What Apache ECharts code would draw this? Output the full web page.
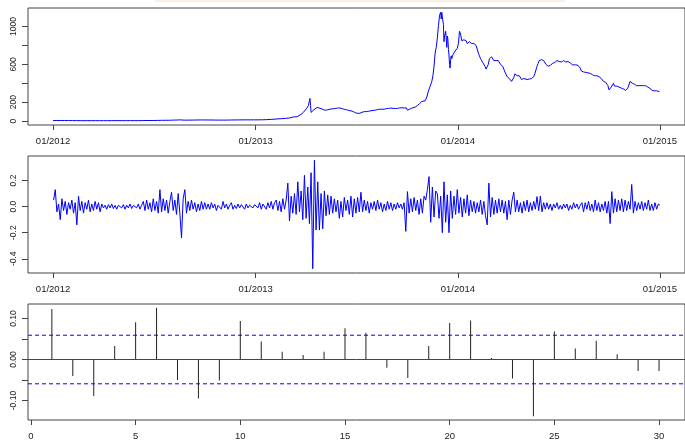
<!DOCTYPE html>
<html><head><meta charset="utf-8">
<script src="https://cdn.jsdelivr.net/npm/echarts@6/dist/echarts.min.js"></script>
<style>html,body{margin:0;padding:0;background:#fff}#c{width:685px;height:441px}</style>
</head><body><div id="c"></div>
<script>
// ---- time axis (days since 2012-01-01) ----
const yearTickDays = [0, 366, 731, 1096];
const yearTickLabels = ['01/2012', '01/2013', '01/2014', '01/2015'];

// ---- panel 1: price (USD) ----
const priceDays = [0,7,14,21,28,35,42,49,56,63,70,77,84,91,98,105,112,119,126,133,140,147,154,161,168,175,182,189,196,203,210,217,224,228,231,238,245,252,259,266,273,280,287,294,301,308,315,322,329,336,343,350,357,364,
371,378,385,392,399,406,413,420,427,434,441,448,452,455,458,461,463,464,465,466,468,471,474,477,480,484,488,492,496,500,504,508,512,516,520,524,528,532,536,540,544,548,551,554,558,562,566,570,574,578,582,586,590,594,598,602,606,610,614,618,622,626,630,634,638,640,643,646,650,654,658,662,666,669,672,675,678,681,684,686,688,690,692,694,696,698,700,701,702,703,704,705,706,707,708,709,710,711,712,713,714,715,716,717,718,719,720,722,724,726,728,730,
732,734,736,738,740,742,744,746,748,750,752,754,756,758,760,762,764,766,768,770,772,774,776,778,780,782,784,786,788,790,792,794,796,798,800,802,804,806,808,810,812,814,816,818,820,822,824,826,828,830,832,834,836,838,840,842,844,846,848,850,852,856,860,864,868,870,872,874,876,878,880,882,884,886,888,890,892,894,896,898,900,902,904,906,908,910,912,914,916,918,920,922,924,926,928,930,932,934,936,938,940,944,948,950,952,954,956,958,960,962,964,966,968,970,972,974,976,978,980,982,984,986,988,990,992,994,996,998,1000,1002,1004,1006,1008,1010,1012,1014,1016,1018,1020,1022,1024,1026,1028,1030,1032,1034,1036,1038,1040,1042,1044,1046,1048,1050,1052,1054,1056,1058,1060,1062,1064,1066,1068,1070,1072,1074,1076,1078,1080,1082,1084,1086,1088,1090,1092,1095];
const priceValues = [5.3,6.8,6.4,6.3,5.8,5.9,5.5,4.7,4.9,4.9,5.0,4.8,4.9,4.9,4.9,5.0,5.0,5.1,5.0,5.0,5.1,5.3,5.4,5.9,6.5,6.7,6.7,7.3,8.5,8.7,9.2,10.8,11.5,13.2,10.0,10.2,10.7,11.0,12.0,12.2,12.4,11.9,11.7,11.0,10.8,10.8,11.0,11.9,12.4,12.7,13.3,13.4,13.3,13.5,
13.6,14.1,15.8,17.7,20.5,23.5,25.9,29.6,33.0,44.0,47.0,72,92,102,135,162,215,240,165,92,105,120,132,145,140,132,122,115,120,126,130,132,136,140,136,128,122,117,110,106,95,84,76,82,94,100,102,104,110,112,116,122,126,126,126,132,134,138,134,134,134,140,142,138,140,116,126,132,142,148,165,185,208,198,215,255,320,370,420,480,580,720,780,880,1010,1120,1150,1080,1150,1100,1100,1020,840,900,880,950,880,780,900,870,760,700,600,560,650,690,660,700,720,740,760,770,
820,950,920,850,830,860,840,850,820,830,840,820,820,800,820,820,800,800,720,690,660,650,620,600,580,550,540,600,660,670,680,660,640,630,640,620,640,620,600,600,580,550,520,500,470,460,450,440,420,440,460,500,520,480,500,480,460,440,440,450,450,440,445,450,470,500,540,580,610,640,660,650,630,640,620,600,590,580,560,590,600,610,595,620,610,640,645,630,630,625,630,640,630,625,630,630,620,615,610,595,590,595,590,580,560,530,510,520,500,515,520,510,500,505,495,490,480,480,475,480,475,470,470,450,440,420,400,410,390,375,330,320,360,380,400,370,380,370,365,360,355,350,345,340,330,325,340,350,370,420,440,400,410,390,380,375,380,375,370,375,370,375,375,375,360,360,350,345,330,325,330,320,325,320,315,312];

// ---- panel 2: daily log returns, sampled every 3rd day from day 1 ----
const returnFirstDay = 1;
const returnStepDays = 3;
const returnValues = [
0.05,0.13,-0.04,0.02,-0.10,0.06,-0.03,0.04,-0.06,0.03,-0.02,0.05,-0.05,0.03,-0.14,
0.08,-0.03,0.04,-0.05,0.03,-0.02,0.05,-0.04,0.02,-0.03,0.04,-0.02,0.03,-0.04,
0.02,-0.01,0.01,-0.02,0.015,-0.01,0.02,-0.015,0.01,-0.02,0.01,0.02,-0.01,0.015,-0.02,0.01,-0.01,0.02,-0.015,0.01,0.025,-0.01,0.02,-0.02,0.01,
0.04,-0.03,0.05,-0.02,0.03,-0.04,0.06,-0.03,0.04,-0.05,0.13,
-0.04,0.06,-0.03,0.05,-0.05,0.04,0.11,-0.03,0.05,-0.06,0.10,-0.05,-0.24,0.06,0.13,
-0.05,0.04,-0.03,0.05,-0.02,0.03,-0.04,0.02,-0.03,0.04,-0.02,0.03,-0.02,
0.02,-0.02,0.03,-0.01,0.02,-0.03,0.01,0.02,-0.02,0.04,-0.01,0.02,-0.02,0.01,0.03,-0.02,0.01,-0.015,0.02,-0.01,0.015,0.01,-0.02,0.02,-0.01,0.01,0.02,-0.01,0.015,
0.02,-0.01,0.03,-0.02,0.02,0.01,-0.02,0.03,-0.01,0.04,-0.02,0.03,0.05,-0.03,0.04,-0.04,0.06,-0.02,0.05,
0.18,-0.11,0.08,-0.05,0.10,-0.06,0.19,-0.04,0.12,
-0.10,0.24,-0.09,0.15,-0.13,0.26,-0.476,0.355,-0.18,0.19,-0.18,0.10,-0.17,0.12,-0.07,
0.09,-0.06,0.08,-0.05,0.06,-0.04,0.05,-0.09,0.04,-0.08,0.07,-0.03,0.05,-0.06,0.08,-0.08,0.06,-0.05,0.07,-0.04,0.11,
-0.04,0.05,-0.03,0.04,-0.05,0.03,-0.02,0.04,-0.03,0.05,-0.02,0.03,-0.04,0.02,-0.03,0.04,-0.02,0.03,-0.03,0.02,-0.02,0.03,-0.01,0.02,-0.02,0.03,
-0.19,0.115,-0.05,0.06,-0.04,0.07,-0.03,0.05,-0.06,
0.06,-0.05,0.08,0.05,0.13,0.23,-0.12,0.15,-0.08,0.12,0.10,-0.09,0.08,-0.20,0.19,-0.12,0.09,-0.20,
0.12,-0.09,0.08,-0.06,0.13,-0.05,0.07,-0.08,0.06,-0.05,0.09,-0.07,
0.05,-0.04,0.04,-0.05,0.03,-0.04,0.05,-0.06,0.04,-0.07,-0.14,
0.18,-0.08,0.07,-0.06,0.05,-0.05,0.06,-0.04,0.05,-0.05,0.04,-0.10,0.05,-0.06,0.05,0.11,-0.04,
0.05,-0.04,0.03,-0.05,0.04,-0.03,0.05,-0.04,0.03,-0.03,0.04,-0.02,0.077,-0.03,0.08,-0.04,0.03,
-0.02,0.03,-0.02,0.02,-0.03,0.02,-0.01,0.03,-0.02,0.01,-0.02,0.02,-0.01,0.02,-0.03,0.01,-0.02,0.03,-0.01,0.02,-0.02,0.01,
0.03,-0.04,0.03,-0.02,0.04,-0.03,0.02,-0.04,0.05,-0.03,0.03,-0.04,0.02,-0.03,0.04,
-0.05,0.04,-0.13,0.115,-0.05,0.06,-0.04,0.05,-0.03,0.06,-0.04,0.05,-0.03,0.04,-0.02,0.17,-0.05,0.04,-0.03,0.03,-0.02,0.04,-0.03,0.03,-0.02,0.05,-0.03,0.02,-0.03,0.03,-0.02,0.02,0.01];

// ---- panel 3: ACF of returns ----
const acfLags = [1,2,3,4,5,6,7,8,9,10,11,12,13,14,15,16,17,18,19,20,21,22,23,24,25,26,27,28,29,30];
const acfValues = [0.123,-0.040,-0.089,0.033,0.091,0.126,-0.050,-0.095,-0.051,0.094,0.044,0.019,0.011,0.019,0.076,0.065,-0.020,-0.045,0.033,0.089,0.095,0.004,-0.046,-0.138,0.068,0.027,0.046,0.013,-0.028,-0.028];
const acfBound = 0.0592;
const lagTicks = [0,5,10,15,20,25,30];

const priceTicks = [0,200,400,600,800,1000];
const priceLabels = [0,200,600,1000];
const retTicks = [-0.4,-0.2,0,0.2];
const acfTicks = [-0.1,-0.05,0,0.05,0.1];
const acfLabelTicks = [-0.1,0,0.1];

// ---- build ----
const FONT = 'Liberation Sans';
const AX = '#444';
const LAG_MIN = -0.14, LAG_MAX = 31.24;
const priceData = priceDays.map((d,i)=>[d, priceValues[i]]);
const retData = returnValues.map((v,i)=>[returnFirstDay + i*returnStepDays, v]);
const acfData = acfLags.map((l,i)=>[l, acfValues[i]]);

const gridLeft = 28, gridW = 663, gridH = 117;
function grid(top){ return {left:gridLeft, top:top, width:gridW, height:gridH, show:true, borderColor:AX, borderWidth:1, backgroundColor:'transparent'}; }
function xAx(idx, min, max, ticks, labels, fmt){
  return {type:'value', gridIndex:idx, min:min, max:max, position:'bottom',
    axisLine:{show:false, onZero:false}, splitLine:{show:false},
    axisTick:{show:true, length:5, lineStyle:{color:AX}, customValues:ticks},
    axisLabel:{show:true, customValues:labels, margin:11, fontFamily:FONT, fontSize:9.5, color:'#222', formatter:fmt}};
}
function yAx(idx, min, max, ticks, labels, fmt){
  return {type:'value', gridIndex:idx, min:min, max:max, position:'left',
    axisLine:{show:false, onZero:false}, splitLine:{show:false},
    axisTick:{show:true, length:6, lineStyle:{color:AX}, customValues:ticks},
    axisLabel:{show:true, customValues:labels, rotate:90, align:'center', verticalAlign:'bottom', margin:10, fontFamily:FONT, fontSize:8.5, color:'#222', formatter:fmt}};
}
const yearFmt = v => { const k = yearTickDays.indexOf(Math.round(v)); return k>=0 ? yearTickLabels[k] : ''; };
const boundLine = b => ({type:'line', xAxisIndex:2, yAxisIndex:2, data:[[LAG_MIN,b],[LAG_MAX,b]], showSymbol:false, silent:true,
  lineStyle:{color:'#0000ff', type:[4,3], width:1}, itemStyle:{color:'#0000ff'}, z:1});

const chart = echarts.init(document.getElementById('c'), null, {renderer:'canvas'});
chart.setOption({
  animation:false,
  backgroundColor:'#fff',
  graphic:[{type:'rect', shape:{x:155,y:0,width:410,height:2}, style:{fill:'#fcefe0'}, silent:true}],
  grid:[grid(8), grid(156), grid(304)],
  xAxis:[
    xAx(0, -45.2, 1141.2, yearTickDays, yearTickDays, yearFmt),
    xAx(1, -45.2, 1141.2, yearTickDays, yearTickDays, yearFmt),
    xAx(2, LAG_MIN, LAG_MAX, lagTicks, lagTicks, v=>String(Math.round(v)))
  ],
  yAxis:[
    yAx(0, -41, 1196, priceTicks, priceLabels, v=>String(Math.round(v))),
    yAx(1, -0.509, 0.388, retTicks, retTicks, v=>(Math.abs(v)<1e-9?0:v).toFixed(1)),
    yAx(2, -0.1474, 0.1353, acfTicks, acfLabelTicks, v=>(Math.abs(v)<1e-9?0:v).toFixed(2))
  ],
  series:[
    {type:'line', xAxisIndex:0, yAxisIndex:0, data:priceData, showSymbol:false, lineStyle:{color:'#0000ff', width:1}, itemStyle:{color:'#0000ff'}},
    {type:'line', xAxisIndex:1, yAxisIndex:1, data:retData, showSymbol:false, lineStyle:{color:'#0000ff', width:1}, itemStyle:{color:'#0000ff'}},
    boundLine(acfBound),
    boundLine(-acfBound),
    {type:'bar', xAxisIndex:2, yAxisIndex:2, data:acfData, barWidth:1, itemStyle:{color:'#222'}, z:3,
      markLine:{silent:true, symbol:'none', label:{show:false}, lineStyle:{color:AX, type:'solid', width:1},
        data:[{yAxis:0}]}}
  ]
});
</script></body></html>
